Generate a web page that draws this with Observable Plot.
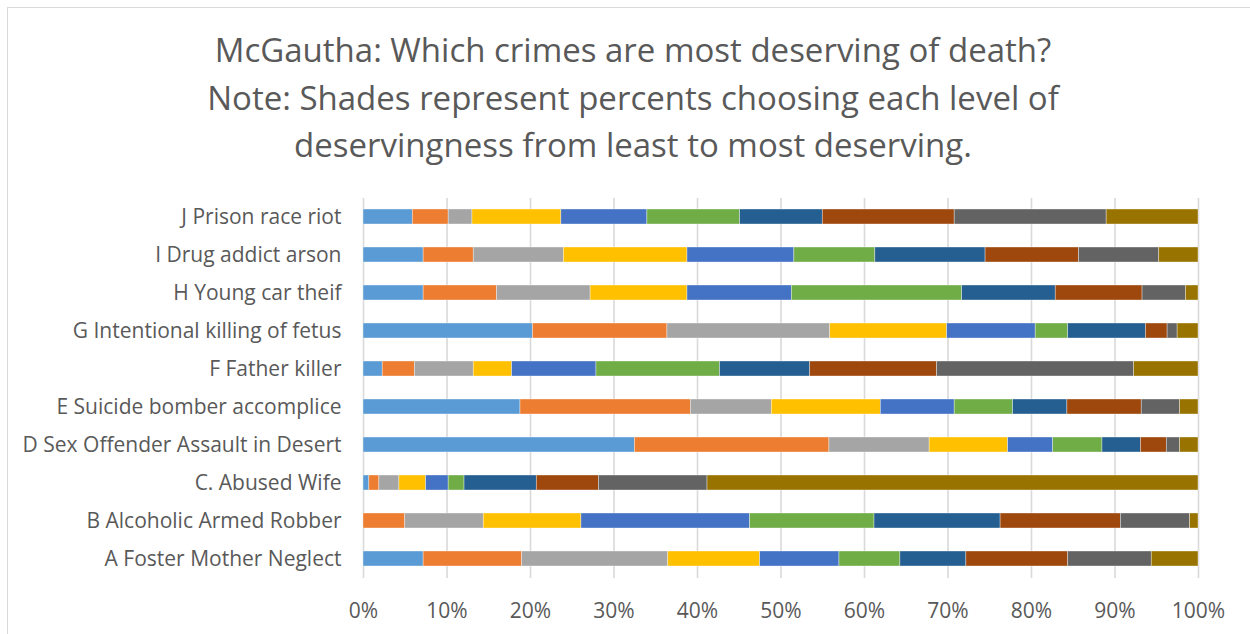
<!DOCTYPE html>
<html>
<head>
<meta charset="utf-8">
<script src="https://cdn.jsdelivr.net/npm/d3@7"></script>
<script src="https://cdn.jsdelivr.net/npm/@observablehq/plot@0.6"></script>
<style>
  html, body { margin: 0; padding: 0; background: #fff; overflow: hidden; width: 1250px; height: 634px; }
  #frame { position: absolute; left: 7px; top: 7px; width: 1300px; height: 700px; border: 1.5px solid #d9d9d9; box-sizing: border-box; }
  #title { position: absolute; left: 7px; width: 1252px; top: 26px; text-align: center; font-family: "Open Sans", sans-serif; font-size: 33px; line-height: 47.5px; color: #595959; }
  #chart { position: absolute; left: 0; top: 180px; }
</style>
</head>
<body>
<div id="frame"></div>
<div id="title">McGautha: Which crimes are most deserving of death?<br>Note: Shades represent percents choosing each level of<br>deservingness from least to most deserving.</div>
<div id="chart"></div>
<script>
// Crimes, bottom (A) to top (J)
const crimes = [
  "A Foster Mother Neglect",
  "B Alcoholic Armed Robber",
  "C. Abused Wife",
  "D Sex Offender Assault in Desert",
  "E Suicide bomber accomplice",
  "F Father killer",
  "G Intentional killing of fetus",
  "H Young car theif",
  "I Drug addict arson",
  "J Prison race riot"
];

// Percent choosing each level (1 = least deserving ... 10 = most deserving), order A..J
const level1  = [7.2, 0,    0.7,  32.5, 18.8,  2.3,  20.3, 7.2,  7.2,  5.9];
const level2  = [11.8, 5.0, 1.2,  23.3, 20.4,  3.85, 16.1, 8.8,  6.0,  4.3];
const level3  = [17.5, 9.4, 2.4,  12.0, 9.7,   7.05, 19.5, 11.2, 10.8, 2.85];
const level4  = [11.0, 11.7, 3.2, 9.4,  13.05, 4.6,  14.0, 11.6, 14.8, 10.65];
const level5  = [9.5, 20.2, 2.7,  5.4,  8.85,  10.1, 10.6, 12.5, 12.8, 10.3];
const level6  = [7.3, 14.9, 1.9,  5.9,  7.0,   14.8, 3.9,  20.4, 9.7,  11.1];
const level7  = [7.9, 15.1, 8.65, 4.6,  6.5,   10.8, 9.3,  11.2, 13.2, 9.9];
const level8  = [12.2, 14.4, 7.45, 3.1, 8.9,   15.2, 2.6,  10.4, 11.2, 15.8];
const level9  = [10.0, 8.3, 13.0, 1.6,  4.6,   23.6, 1.2,  5.2,  9.6,  18.2];
const level10 = [5.6, 1.0,  58.8, 2.2,  2.2,   7.7,  2.5,  1.5,  4.7,  11.0];

const levels = [level1, level2, level3, level4, level5, level6, level7, level8, level9, level10];
const levelNames = levels.map((_, i) => `Level ${i + 1}`);
const colors = ["#5B9BD5", "#ED7D31", "#A5A5A5", "#FFC000", "#4472C4", "#70AD47", "#255E91", "#9E480E", "#636363", "#997300"];
const xTicks = [0, 0.1, 0.2, 0.3, 0.4, 0.5, 0.6, 0.7, 0.8, 0.9, 1.0];

const rows = [];
levels.forEach((vals, li) => {
  vals.forEach((v, ci) => {
    rows.push({crime: crimes[ci], level: levelNames[li], value: v / 100});
  });
});

const plot = Plot.plot({
  width: 1250,
  height: 454,
  marginLeft: 363,
  marginRight: 52,
  marginTop: 18,
  marginBottom: 56,
  style: {fontFamily: "'Open Sans', sans-serif", fontSize: "21px", color: "#595959", background: "transparent"},
  x: {domain: [0, 1], ticks: xTicks, tickFormat: d3.format(".0%"), label: null},
  y: {domain: crimes.slice().reverse(), paddingInner: 0.6, paddingOuter: 0.3, label: null},
  color: {domain: levelNames, range: colors},
  marks: [
    Plot.gridX(xTicks, {stroke: "#d9d9d9", strokeOpacity: 1, strokeWidth: 1.6}),
    Plot.barX(rows, Plot.stackX({
      y: "crime", x: "value", fill: "level", order: null,
      stroke: "#ffffff", strokeWidth: 0.6, strokeOpacity: 0.6
    })),
    Plot.axisX(xTicks, {tickSize: 0, tickPadding: 25, tickFormat: d3.format(".0%"), fontSize: 21, fill: "#595959", label: null}),
    Plot.axisY({tickSize: 0, tickPadding: 22, fontSize: 21, fill: "#595959", label: null})
  ]
});
document.getElementById("chart").appendChild(plot);
</script>
</body>
</html>
